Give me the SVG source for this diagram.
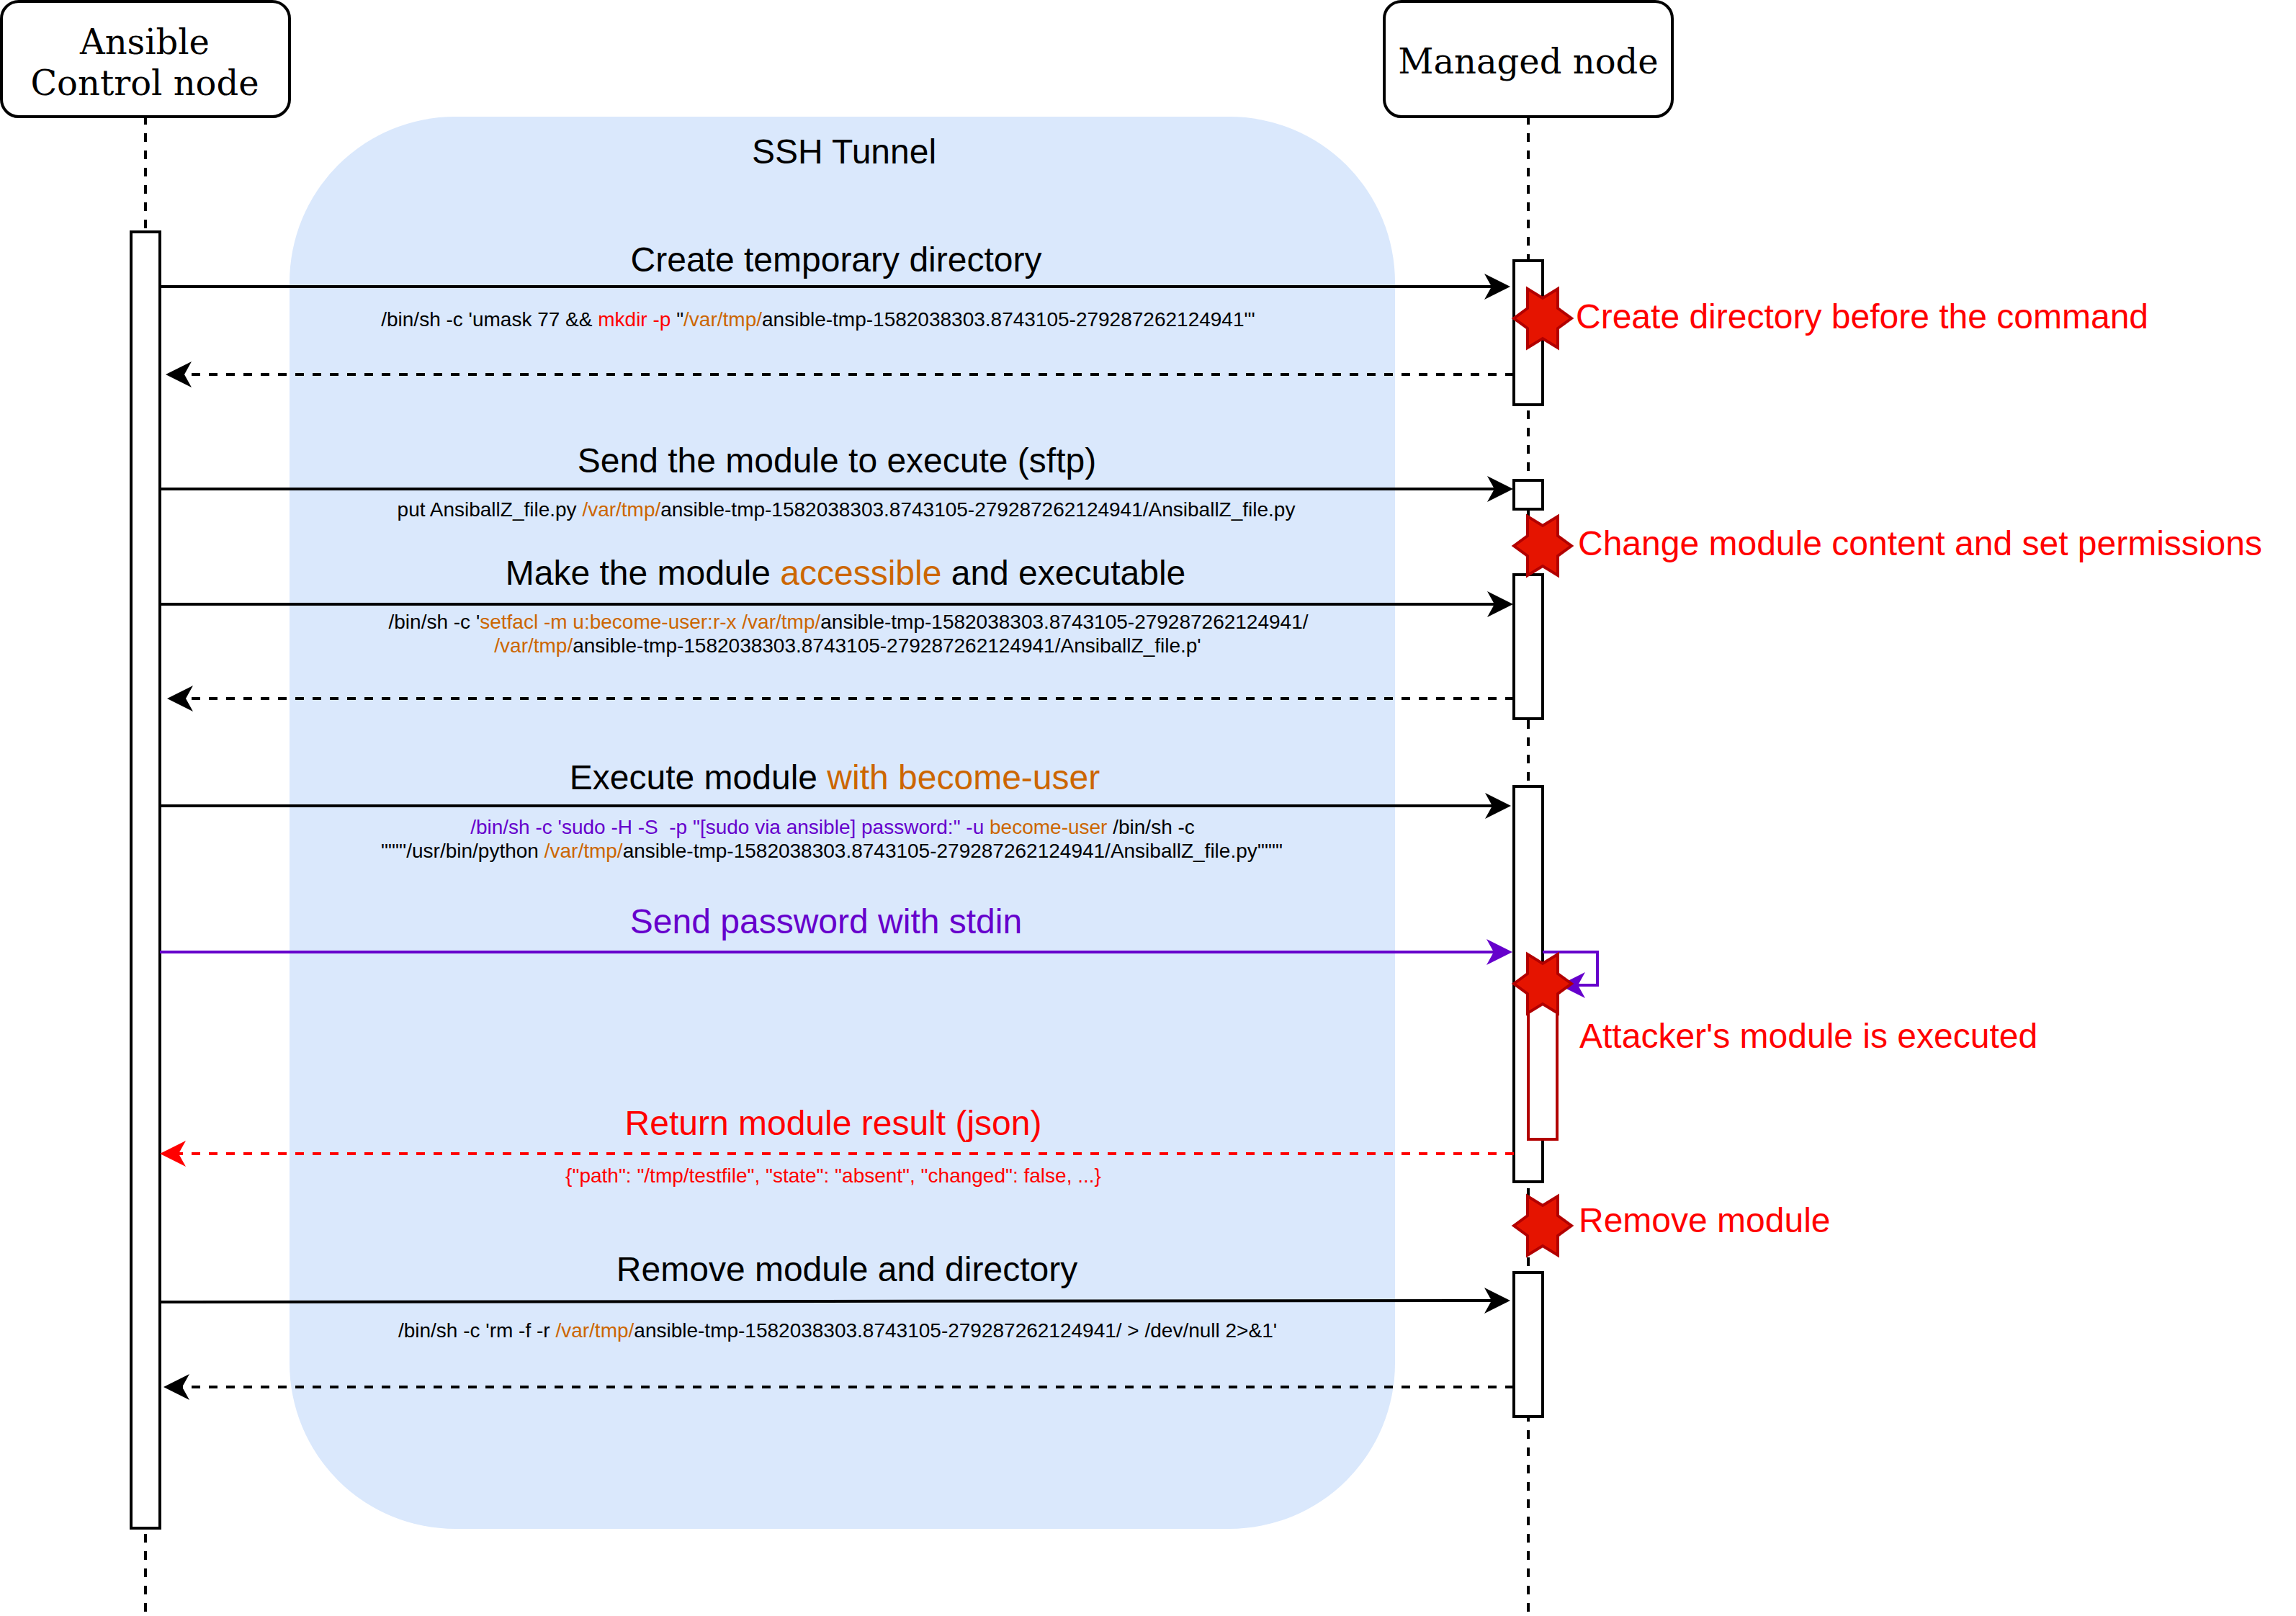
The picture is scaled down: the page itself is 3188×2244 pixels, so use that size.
<svg xmlns="http://www.w3.org/2000/svg" width="3188" height="2244" viewBox="0 0 3188 2244">
<style>
.s{font-family:"Liberation Sans",Arial,sans-serif;fill:#000}
.big{font-size:48px}
.sm{font-size:28px}
.m{text-anchor:middle}
.serif{font-family:"DejaVu Serif",serif;font-size:48px;text-anchor:middle;fill:#000}
.r{fill:#f00}.o{fill:#c60}.p{fill:#60c}
.head{fill:#fff;stroke:#000;stroke-width:4}
.act{fill:#fff;stroke:#000;stroke-width:4}
.life{fill:none;stroke:#000;stroke-width:4;stroke-dasharray:12 12}
.c{fill:none;stroke:#000;stroke-width:4}
.d{stroke-dasharray:12 12}
.ak{marker-end:url(#ak)}.ap{marker-end:url(#ap);stroke:#60c}.ar{marker-end:url(#ar);stroke:#f00}
.star{fill:#e51400;stroke:#b20000;stroke-width:4}
</style>
<defs>
<marker id="ak" markerUnits="userSpaceOnUse" markerWidth="40" markerHeight="40" refX="10" refY="18" orient="auto" overflow="visible"><path d="M0 0L36 18L0 36L10 18Z" fill="#000"/></marker>
<marker id="ap" markerUnits="userSpaceOnUse" markerWidth="40" markerHeight="40" refX="10" refY="18" orient="auto" overflow="visible"><path d="M0 0L36 18L0 36L10 18Z" fill="#60c"/></marker>
<marker id="ar" markerUnits="userSpaceOnUse" markerWidth="40" markerHeight="40" refX="10" refY="18" orient="auto" overflow="visible"><path d="M0 0L36 18L0 36L10 18Z" fill="#f00"/></marker>
<polygon id="st" class="star" points="-40,0 -21,-14 -21,-41 0,-28 21,-41 21,-14 40,0 21,14 21,41 0,28 -21,41 -21,14"/>
</defs>
<rect width="3188" height="2244" fill="#fff"/>
<g id="ssh-tunnel">
<rect x="402" y="162" width="1535" height="1961" rx="230" ry="230" fill="#dae8fc"/>
<text class="s big m" x="1172" y="227">SSH Tunnel</text>
</g>
<g id="lifelines">
<path class="life" d="M202 161V321M202 2130V2244M2122 161V361M2122 570V665M2122 707V800M2122 1000V1093M2122 1650V1766M2122 1962V2244"/>
</g>
<g id="node-control">
<rect class="head" x="2" y="2" width="400" height="160" rx="24" ry="24"/>
<text class="serif" x="201" y="75">Ansible</text>
<text class="serif" x="201" y="132">Control node</text>
</g>
<g id="node-managed">
<rect class="head" x="1922" y="2" width="400" height="160" rx="24" ry="24"/>
<text class="serif" x="2122" y="102">Managed node</text>
</g>
<g id="act-control"><rect class="act" x="182" y="322" width="40" height="1800"/></g>
<g id="act-m1"><rect class="act" x="2102" y="362" width="40" height="200"/></g>
<g id="act-m2"><rect class="act" x="2102" y="667" width="40" height="40"/></g>
<g id="act-m3"><rect class="act" x="2102" y="798" width="40" height="200"/></g>
<g id="act-m4"><rect class="act" x="2102" y="1092" width="40" height="549"/></g>
<g id="act-m5"><rect class="act" x="2102" y="1767" width="40" height="200"/></g>
<g id="connectors">
<path class="c ak" d="M222 398H2071"/>
<path class="c d ak" d="M2102 520H256"/>
<path class="c ak" d="M222 679H2075"/>
<path class="c ak" d="M222 839H2075"/>
<path class="c d ak" d="M2102 970H258"/>
<path class="c ak" d="M222 1119H2072"/>
<path class="c ap" d="M222 1322H2074"/>
<path class="c ap" d="M2142 1322H2218V1368H2191"/>
<path class="c d ar" d="M2102 1602H248"/>
<path class="c ak" d="M222 1808L2071 1806"/>
<path class="c d ak" d="M2102 1926H253"/>
</g>
<g id="act-attacker"><rect x="2122" y="1360" width="40" height="222" fill="#fff" stroke="#b20000" stroke-width="4"/></g>
<g id="star-1"><use href="#st" x="2142" y="442"/></g>
<g id="star-2"><use href="#st" x="2142" y="758"/></g>
<g id="star-3"><use href="#st" x="2142" y="1366"/></g>
<g id="star-4"><use href="#st" x="2142" y="1702"/></g>
<g id="labels">
<text class="s big m" x="1161" y="377">Create temporary directory</text>
<text class="s sm m" x="1136" y="453">/bin/sh -c 'umask 77 &amp;&amp; <tspan class="r">mkdir -p</tspan> "<tspan class="o">/var/tmp/</tspan>ansible-tmp-1582038303.8743105-279287262124941"'</text>
<text class="s big m" x="1162" y="656">Send the module to execute (sftp)</text>
<text class="s sm m" x="1175" y="717">put AnsiballZ_file.py <tspan class="o">/var/tmp/</tspan>ansible-tmp-1582038303.8743105-279287262124941/AnsiballZ_file.py</text>
<text class="s big m" x="1174" y="812">Make the module <tspan class="o">accessible</tspan> and executable</text>
<text class="s sm m" x="1178" y="873">/bin/sh -c '<tspan class="o">setfacl -m u:become-user:r-x /var/tmp/</tspan>ansible-tmp-1582038303.8743105-279287262124941/</text>
<text class="s sm m" x="1177" y="906"><tspan class="o">/var/tmp/</tspan>ansible-tmp-1582038303.8743105-279287262124941/AnsiballZ_file.p'</text>
<text class="s big m" x="1159" y="1096">Execute module <tspan class="o">with become-user</tspan></text>
<text class="s sm m" x="1156" y="1158"><tspan class="p">/bin/sh -c 'sudo -H -S &#160;-p "[sudo via ansible] password:" -u</tspan> <tspan class="o">become-user</tspan> /bin/sh -c</text>
<text class="s sm m" x="1155" y="1191">"""'/usr/bin/python <tspan class="o">/var/tmp/</tspan>ansible-tmp-1582038303.8743105-279287262124941/AnsiballZ_file.py'"""</text>
<text class="s big m p" x="1147" y="1296">Send password with stdin</text>
<text class="s big m r" x="1157" y="1576">Return module result (json)</text>
<text class="s sm m r" x="1157" y="1642">{"path": "/tmp/testfile", "state": "absent", "changed": false, ...}</text>
<text class="s big m" x="1176" y="1779">Remove module and directory</text>
<text class="s sm m" x="1163" y="1857">/bin/sh -c 'rm -f -r <tspan class="o">/var/tmp/</tspan>ansible-tmp-1582038303.8743105-279287262124941/ &gt; /dev/null 2&gt;&amp;1'</text>
<text class="s big r" x="2188" y="456">Create directory before the command</text>
<text class="s big r" x="2191" y="771">Change module content and set permissions</text>
<text class="s big r" x="2193" y="1455">Attacker's module is executed</text>
<text class="s big r" x="2192" y="1711">Remove module</text>
</g>
</svg>
